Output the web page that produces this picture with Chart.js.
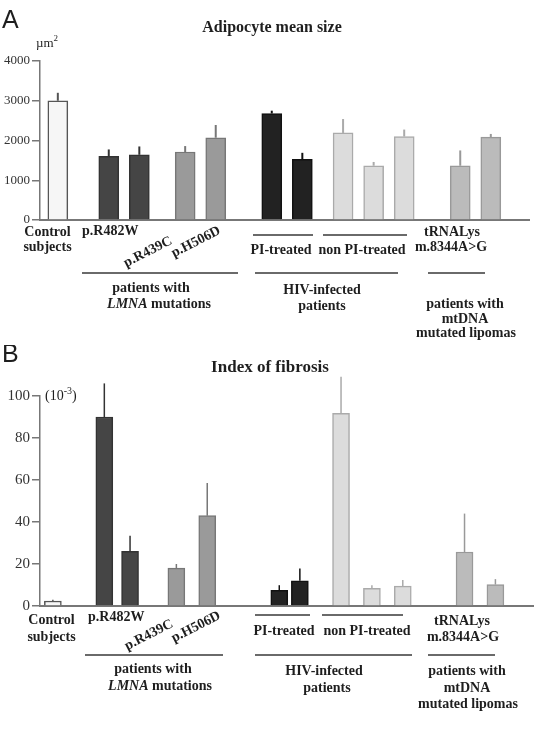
<!DOCTYPE html>
<html lang="en">
<head>
    <meta charset="UTF-8">
    <title>Adipocyte mean size and index of fibrosis</title>
    <style>
        body {
            margin: 0;
            background: #fff;
        }
        .painel {
            position: absolute;
            left: 0;
        }
    </style>
    <script src="https://cdn.jsdelivr.net/npm/chart.js"></script>
</head>
<body>
    <canvas id="panelA" class="painel" width="534" height="345" style="top:0"></canvas>
    <canvas id="panelB" class="painel" width="534" height="390" style="top:345px"></canvas>
<script>
// data (mean and upward error bar)
const categories = ['Control subjects', 'p.R482W', 'p.R482W', 'p.R439C', 'p.H506D',
    'PI-treated', 'PI-treated', 'non PI-treated', 'non PI-treated', 'non PI-treated',
    'tRNALys m.8344A>G', 'tRNALys m.8344A>G'];
const sizeMean = [3000, 1600, 1640, 1710, 2070, 2680, 1525, 2190, 1365, 2100, 1365, 2085];
const sizeErr = [200, 175, 210, 150, 320, 70, 165, 350, 95, 175, 385, 80];
const fibrosisMean = [2.4, 90, 26, 18, 43, 7.5, 12, 91.7, 8.4, 9.5, 25.7, 10.2];
const fibrosisErr = [0.6, 16, 7.5, 2, 15.6, 2.4, 5.8, 17.5, 1.5, 2.9, 18.3, 2.6];
const sizeTicks = [0, 1000, 2000, 3000, 4000];
const fibrosisTicks = [0, 20, 40, 60, 80, 100];

// layout: bars sit on a fine category grid with empty slots between groups
const N = 96;
const slotA = [3, 13, 19, 28, 34, 45, 51, 59, 65, 71, 82, 88];
const slotB = [2, 12, 17, 26, 32, 46, 50, 58, 64, 70, 82, 88];
const fills = ['#f6f6f6', '#454545', '#454545', '#9a9a9a', '#9a9a9a', '#222222', '#222222',
    '#dcdcdc', '#dcdcdc', '#dcdcdc', '#bbbbbb', '#bbbbbb'];
const strokes = ['#555555', '#333333', '#333333', '#777777', '#777777', '#111111', '#111111',
    '#aaaaaa', '#aaaaaa', '#aaaaaa', '#999999', '#999999'];

function espalhar(valores, slots, vazio) {
    const out = new Array(N).fill(vazio);
    slots.forEach((s, i) => out[s] = valores[i]);
    return out;
}

const serif = '"Liberation Serif", "DejaVu Serif", serif';

// thin upward error lines
const errorBars = {
    id: 'errorBars',
    afterDatasetsDraw(chart) {
        const ctx = chart.ctx;
        const y = chart.scales.y;
        chart.data.datasets.forEach((ds, di) => {
            chart.getDatasetMeta(di).data.forEach((bar, i) => {
                const v = ds.data[i];
                if (v == null) return;
                ctx.save();
                ctx.strokeStyle = ds.borderColor[i];
                ctx.lineWidth = ds.errWidth;
                ctx.beginPath();
                ctx.moveTo(bar.x, bar.y);
                ctx.lineTo(bar.x, y.getPixelForValue(v + ds.err[i]));
                ctx.stroke();
                ctx.restore();
            });
        });
    }
};

function texto(ctx, t, x, y, font, align, rot) {
    ctx.save();
    ctx.font = font;
    ctx.fillStyle = '#1e1e1e';
    ctx.textAlign = align || 'center';
    ctx.textBaseline = 'middle';
    ctx.translate(x, y);
    if (rot) ctx.rotate(rot * Math.PI / 180);
    ctx.fillText(t, 0, 0);
    ctx.restore();
}

function linha(ctx, x1, x2, y) {
    ctx.save();
    ctx.strokeStyle = '#6a6a6a';
    ctx.lineWidth = 2;
    ctx.beginPath();
    ctx.moveTo(x1, y);
    ctx.lineTo(x2, y);
    ctx.stroke();
    ctx.restore();
}

function lmna(ctx, x, y) {
    const b = 'bold 14px ' + serif, bi = 'italic bold 14px ' + serif;
    ctx.save();
    ctx.font = bi;
    const w1 = ctx.measureText('LMNA').width;
    ctx.font = b;
    const w2 = ctx.measureText(' mutations').width;
    ctx.restore();
    const x0 = x - (w1 + w2) / 2;
    texto(ctx, 'LMNA', x0, y, bi, 'left');
    texto(ctx, ' mutations', x0 + w1, y, b, 'left');
}

function anotacoes(p) {
    return {
        id: 'anotacoes',
        afterDraw(chart) {
            const ctx = chart.ctx;
            const lb = 'bold 14px ' + serif;
            texto(ctx, p.letra, 2, p.letraY, '25px "Liberation Sans", Arial, sans-serif', 'left');
            texto(ctx, p.titulo, p.tituloX, p.tituloY, 'bold ' + p.tituloSize + 'px ' + serif);
            // unit label with superscript
            texto(ctx, p.unidade[0], p.unidadeX, p.unidadeY, p.unidadeSize + 'px ' + serif, 'left');
            ctx.save();
            ctx.font = p.unidadeSize + 'px ' + serif;
            const w0 = ctx.measureText(p.unidade[0]).width;
            ctx.font = (p.unidadeSize - 4) + 'px ' + serif;
            const w1 = ctx.measureText(p.unidade[1]).width;
            ctx.restore();
            texto(ctx, p.unidade[1], p.unidadeX + w0, p.unidadeY - 5, (p.unidadeSize - 4) + 'px ' + serif, 'left');
            if (p.unidade[2]) texto(ctx, p.unidade[2], p.unidadeX + w0 + w1, p.unidadeY, p.unidadeSize + 'px ' + serif, 'left');

            p.textos.forEach(t => texto(ctx, t[0], t[1], t[2], lb, t[3] || 'center', t[4]));
            p.linhas.forEach(l => linha(ctx, l[0], l[1], l[2]));
            lmna(ctx, p.lmna[0], p.lmna[1]);
        }
    };
}

function painel(id, o) {
    const labels = espalhar(categories, o.slots, '');
    new Chart(document.getElementById(id), {
        type: 'bar',
        data: {
            labels: labels,
            datasets: [{
                data: espalhar(o.valores, o.slots, null),
                err: espalhar(o.erros, o.slots, 0),
                backgroundColor: espalhar(fills, o.slots, '#fff'),
                borderColor: espalhar(strokes, o.slots, '#fff'),
                borderWidth: 1.5,
                barThickness: o.barra,
                errWidth: o.errWidth
            }]
        },
        options: {
            responsive: false,
            animation: false,
            layout: { padding: { top: o.top, right: o.right, left: 0, bottom: 0 } },
            plugins: { legend: { display: false }, tooltip: { enabled: false } },
            scales: {
                x: {
                    type: 'category',
                    afterFit: s => { s.height = o.baixo; },
                    ticks: { display: false },
                    grid: { display: false },
                    border: { display: true, color: '#777', width: 2 }
                },
                y: {
                    min: 0,
                    max: o.ticks[o.ticks.length - 1],
                    afterFit: s => { s.width = 40; },
                    afterBuildTicks: s => { s.ticks = o.ticks.map(v => ({ value: v })); },
                    ticks: {
                        padding: 2,
                        color: '#333',
                        font: { family: serif, size: o.tickSize },
                        callback: v => String(v)
                    },
                    grid: { drawOnChartArea: false, drawTicks: true, tickLength: 8, color: '#777', lineWidth: 1.5 },
                    border: { display: true, color: '#777', width: 1.5 }
                }
            }
        },
        plugins: [errorBars, anotacoes(o.notas)]
    });
}

painel('panelA', {
    slots: slotA, valores: sizeMean, erros: sizeErr, ticks: sizeTicks,
    barra: 20, errWidth: 2, top: 61, right: 5, baixo: 125, tickSize: 13,
    notas: {
        letra: 'A', letraY: 21,
        titulo: 'Adipocyte mean size', tituloX: 272, tituloY: 28, tituloSize: 16,
        unidade: ['\u00b5m', '2'], unidadeX: 36, unidadeY: 44, unidadeSize: 13,
        lmna: [159, 304],
        textos: [
            ['Control', 47.5, 232], ['subjects', 47.5, 247],
            ['p.R482W', 82, 231, 'left'],
            ['p.R439C', 148, 252, 'center', -27], ['p.H506D', 196, 242, 'center', -27],
            ['patients with', 151, 288],
            ['PI-treated', 281, 250], ['non PI-treated', 362, 250],
            ['HIV-infected', 322, 290], ['patients', 322, 306],
            ['tRNALys', 452, 232], ['m.8344A>G', 451, 247],
            ['patients with', 465, 304], ['mtDNA', 465, 319], ['mutated lipomas', 466, 333]
        ],
        linhas: [[82, 238, 273], [253, 313, 235], [323, 407, 235], [255, 398, 273], [428, 485, 273]]
    }
});

painel('panelB', {
    slots: slotB, valores: fibrosisMean, erros: fibrosisErr, ticks: fibrosisTicks,
    barra: 17, errWidth: 1.5, top: 51, right: 0, baixo: 129, tickSize: 15,
    notas: {
        letra: 'B', letraY: 10,
        titulo: 'Index of fibrosis', tituloX: 270, tituloY: 23, tituloSize: 17,
        unidade: ['(10', '-3', ')'], unidadeX: 45, unidadeY: 51, unidadeSize: 14,
        lmna: [160, 341],
        textos: [
            ['Control', 51.5, 275], ['subjects', 51.5, 292],
            ['p.R482W', 88, 272, 'left'],
            ['p.R439C', 149, 290, 'center', -27], ['p.H506D', 196, 282, 'center', -27],
            ['patients with', 153, 324],
            ['PI-treated', 284, 286], ['non PI-treated', 367, 286],
            ['HIV-infected', 324, 326], ['patients', 327, 343],
            ['tRNALys', 462, 276], ['m.8344A>G', 463, 292],
            ['patients with', 467, 326], ['mtDNA', 467, 343], ['mutated lipomas', 468, 359]
        ],
        linhas: [[85, 223, 310], [255, 310, 270], [322, 403, 270], [255, 412, 310], [428, 495, 310]]
    }
});
</script>
</body>
</html>
